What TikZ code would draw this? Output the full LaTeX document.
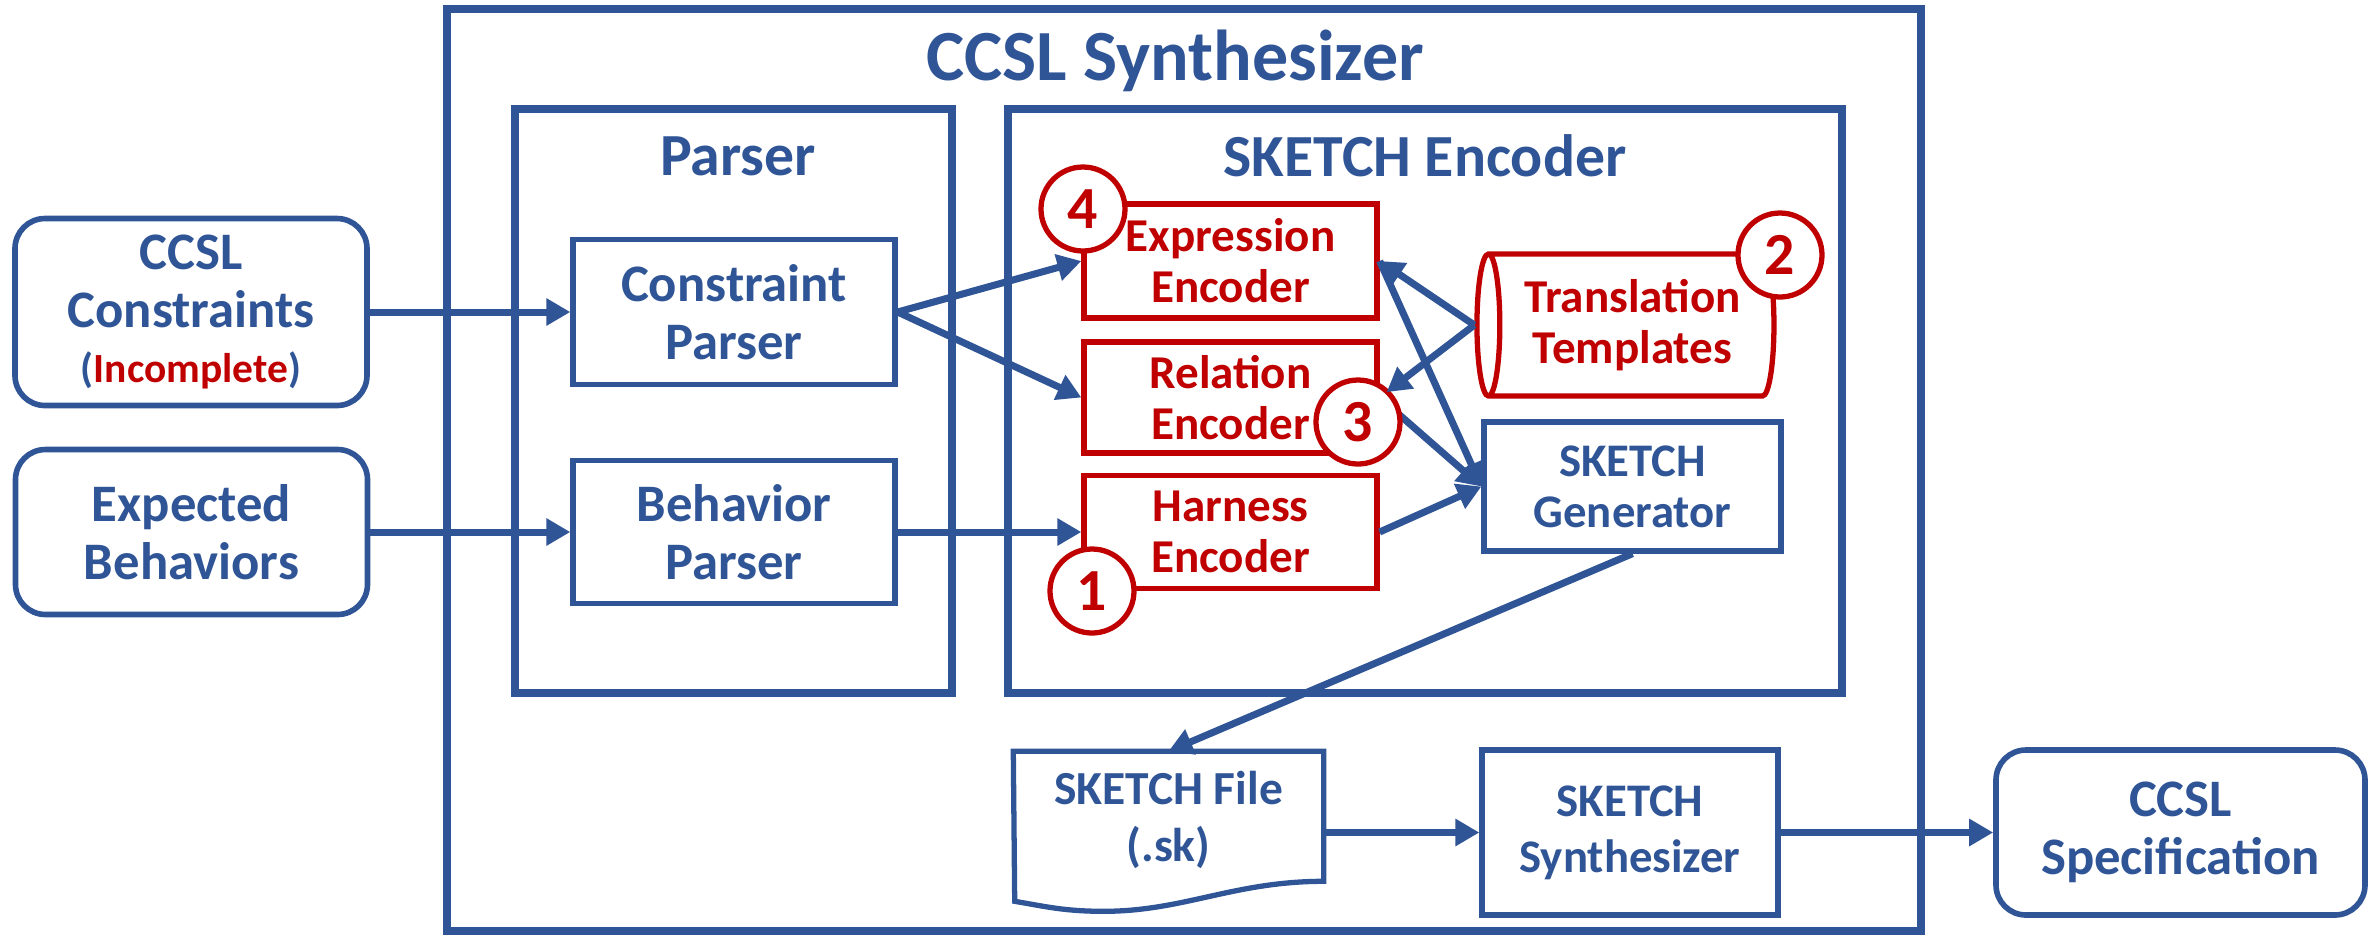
\documentclass[tikz,border=0pt]{standalone}
\usepackage{fontspec}
\setmainfont{Carlito}
\usetikzlibrary{arrows.meta, shapes.geometric}
\definecolor{frame-blue}{HTML}{2F5597}
\definecolor{mark-red}{HTML}{C00000}

\begin{document}
\begin{tikzpicture}[
    every node/.style={font=\bfseries\fontsize{15}{16.5}\selectfont,
      text=frame-blue, align=center, inner sep=0pt},
    blk/.style={draw=frame-blue, line width=1.5pt, fill=white},
    redblk/.style={draw=mark-red, line width=1.5pt, fill=white,
      text=mark-red, font=\bfseries\fontsize{13.4}{14.5}\selectfont},
    grp/.style={draw=frame-blue, line width=2.2pt},
    io/.style={blk, line width=1.6pt, rounded corners=0.3cm},
    num/.style={circle, draw=mark-red, line width=1.5pt, fill=white,
      text=mark-red, minimum size=0.84cm,
      font=\bfseries\fontsize{17}{17}\selectfont},
    flow/.style={-{Triangle[length=0.24cm, width=0.26cm]},
      line width=2pt, draw=frame-blue}]
    \useasboundingbox (0,0) rectangle (23.77,-9.37);
    % frames
    \node[grp, minimum width=14.74cm, minimum height=9.22cm] (synbox)
      at (11.84,-4.70) {};
    \node[font=\bfseries\fontsize{20.5}{20.5}\selectfont] (syntitle)
      at (11.75,-0.61) {CCSL Synthesizer};
    \node[grp, minimum width=4.37cm, minimum height=5.84cm] (pgrp)
      at (7.335,-4.01) {};
    \node[font=\bfseries\fontsize{17}{17}\selectfont] (ptitle)
      at (7.38,-1.56) {Parser};
    \node[grp, minimum width=8.34cm, minimum height=5.84cm] (egrp)
      at (14.25,-4.01) {};
    \node[font=\bfseries\fontsize{17}{17}\selectfont] (etitle)
      at (14.25,-1.56) {SKETCH Encoder};
    % inputs
    \node[io, minimum width=3.52cm, minimum height=1.87cm] (ccsl)
      at (1.91,-3.12) {CCSL\\Constraints\\[-1pt]{\fontsize{11.8}{13}\selectfont
      (\textcolor{mark-red}{Incomplete})}};
    \node[io, minimum width=3.52cm, minimum height=1.65cm] (behav)
      at (1.915,-5.32) {Expected\\Behaviors};
    % parsers
    \node[blk, minimum width=3.22cm, minimum height=1.45cm] (cparser)
      at (7.34,-3.12) {Constraint\\Parser};
    \node[blk, minimum width=3.22cm, minimum height=1.43cm] (bparser)
      at (7.34,-5.32) {Behavior\\Parser};
    % encoders
    \node[redblk, minimum width=2.93cm, minimum height=1.14cm] (expr)
      at (12.305,-2.61) {Expression\\Encoder};
    \node[redblk, minimum width=2.93cm, minimum height=1.11cm] (rel)
      at (12.305,-3.975) {Relation\\Encoder};
    \node[redblk, minimum width=2.93cm, minimum height=1.13cm] (harn)
      at (12.305,-5.32) {Harness\\Encoder};
    \node[redblk, cylinder, shape border rotate=180, aspect=0.25,
      minimum width=1.42cm, minimum height=2.97cm] (tmpl)
      at (16.325,-3.25) {Translation\\Templates};
    \node[blk, minimum width=2.97cm, minimum height=1.29cm,
      font=\bfseries\fontsize{13.3}{14.5}\selectfont] (gen)
      at (16.325,-4.865) {SKETCH\\Generator};
    % output side
    \node[minimum width=3.09cm, minimum height=1.36cm,
      font=\bfseries\fontsize{13.5}{16}\selectfont] (file)
      at (11.685,-8.2) {SKETCH File\\(.sk)};
    \draw[frame-blue, line width=1.5pt, line join=miter]
      (file.north west) -- (file.north east) -- ++(0,-1.30)
      .. controls +(-0.9,0) and +(0.8,0) .. ++(-2.2,-0.30)
      .. controls +(-0.4,0) and +(0.3,-0.05) .. ++(-0.89,0.10) -- cycle;
    \node[blk, minimum width=2.96cm, minimum height=1.65cm,
      font=\bfseries\fontsize{13.3}{16}\selectfont] (synth)
      at (16.30,-8.325) {SKETCH\\Synthesizer};
    \node[io, minimum width=3.69cm, minimum height=1.65cm] (spec)
      at (21.805,-8.325) {CCSL\\Specification};
    % connectors
    \draw[flow] (ccsl.east) -- (cparser.west);
    \draw[flow] (behav.east) -- (bparser.west);
    \draw[flow] (cparser.east) -- (expr.west);
    \draw[flow] (cparser.east) -- (rel.west);
    \draw[flow] (bparser.east) -- (harn.west);
    \draw[flow] (tmpl.west) -- (expr.east);
    \draw[flow] (expr.east) -- (gen.west);
    \draw[flow] (rel.east) -- (gen.west);
    \draw[flow] (harn.east) -- (gen.west);
    \draw[flow] (gen.south) -- (file.north);
    \draw[flow] (file.east |- synth.west) -- (synth.west);
    \draw[flow] (synth.east) -- (spec.west);
    % step numbers
    \node[num] (n4) at (10.83,-2.09) {4};
    \node[num] (n3) at (13.58,-4.22) {3};
    \node[num] (n1) at (10.92,-5.91) {1};
    \node[num] (n2) at (17.80,-2.55) {2};
    \draw[flow, shorten >=2.5pt] (tmpl.west) -- (rel.east);
\end{tikzpicture}
\end{document}
